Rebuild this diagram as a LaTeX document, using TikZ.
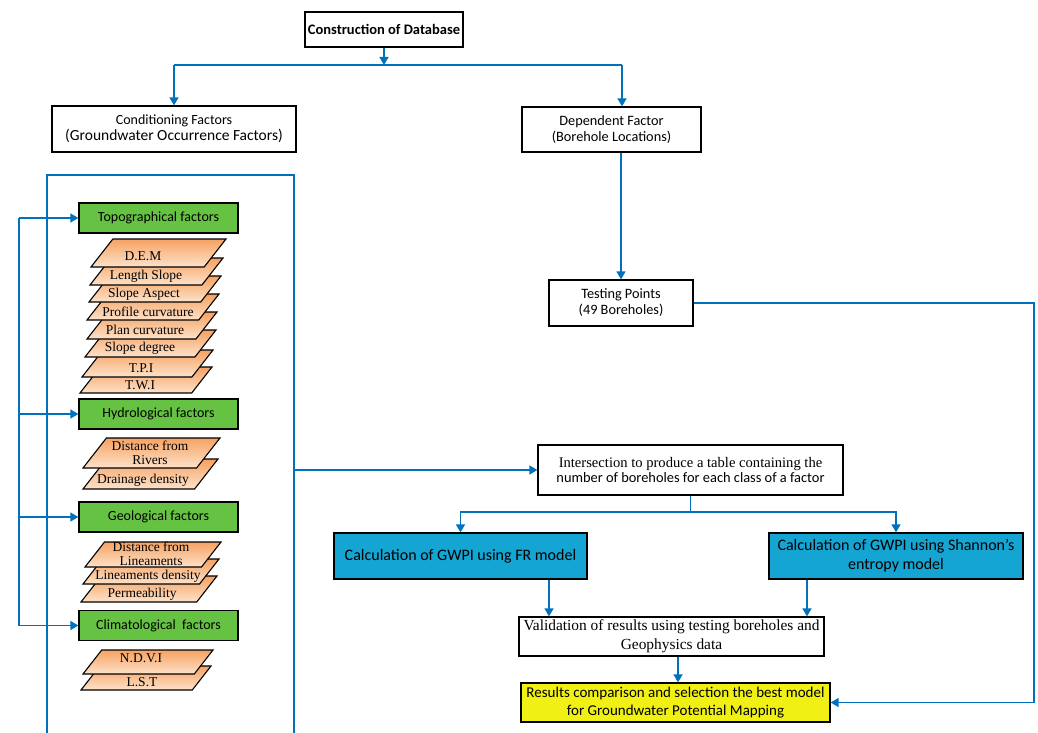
\documentclass[tikz,border=0pt]{standalone}
\usepackage{fontspec}
\setmainfont{Liberation Serif}
\newfontfamily\calfont{Carlito}
\usetikzlibrary{arrows.meta}
\definecolor{lineblue}{RGB}{0,114,188}
\definecolor{mygreen}{RGB}{102,194,66}
\definecolor{mycyan}{RGB}{20,165,210}
\definecolor{myyellow}{RGB}{240,240,20}
\definecolor{pgtop}{RGB}{246,162,98}
\definecolor{pgbot}{RGB}{253,226,202}
\newcommand\pgram[4]{\shade[pg] (#1,#2) -- ({#1+0.78*(#2-#4)},#4) -- (#3,#4) -- ({#3-0.78*(#2-#4)},#2) -- cycle;}
\tikzset{
  conn/.style={draw=lineblue, line width=1.6pt},
  arr/.style={conn, -{Triangle[length=8pt,width=9pt]}},
  box/.style={draw=black, line width=1.3pt, fill=white, align=center, inner sep=0pt},
  calbox/.style={box, font=\calfont\fontsize{14.3}{16}\selectfont},
  gbox/.style={box, fill=mygreen, font=\calfont\fontsize{14}{16}\selectfont, minimum width=159pt, minimum height=30pt},
  cbox/.style={box, fill=mycyan, font=\calfont\fontsize{16}{19}\selectfont, minimum width=254pt, minimum height=46pt},
  pg/.style={draw=black, line width=1.1pt, top color=pgtop, bottom color=pgbot},
  pgtext/.style={font=\fontsize{13.5}{14.5}\selectfont, inner sep=0pt, align=center}
}
\begin{document}
\begin{tikzpicture}[x=1pt,y=-1pt]
\useasboundingbox (0,0) rectangle (1038,733);

% top boxes
\node[box, font=\calfont\bfseries\fontsize{14.5}{16}\selectfont, minimum width=158pt, minimum height=35pt] (db) at (384,29.5) {Construction of Database};
\node[calbox, minimum width=244pt, minimum height=46pt] (cond) at (174,129) {{\fontsize{14}{15}\selectfont Conditioning Factors}\\{\fontsize{15.5}{15}\selectfont (Groundwater Occurrence Factors)}};
\node[calbox, minimum width=179pt, minimum height=45pt] (dep) at (611.5,129.5) {Dependent Factor\\(Borehole Locations)};
\node[calbox, minimum width=144pt, minimum height=46pt] (test) at (621,303) {Testing Points\\(49 Boreholes)};

\coordinate (jL) at (174,65);
\coordinate (jR) at (622,65);
\draw[arr] (db.south) -- (db.south |- jL);
\draw[conn] (jL) -- (jR);
\draw[arr] (jL) -- (cond.north);
\draw[arr] (jR) -- (jR |- dep.north);
\draw[arr] (test.north |- dep.south) -- (test.north);

% big open frame
\coordinate (frBL) at (47,733);
\coordinate (frTL) at (47,175);
\coordinate (frTR) at (294,175);
\coordinate (frBR) at (294,733);
\draw[conn] (frBL) -- (frTL) -- (frTR) -- (frBR);
\coordinate (bigR) at (294,470);

% green boxes
\node[gbox] (topo) at (158.5,218) {Topographical factors};
\node[gbox] (hydro) at (158.5,414) {Hydrological factors};
\node[gbox] (geo) at (158.5,517) {Geological factors};
\node[gbox] (clim) at (158.5,625.5) {Climatological\ \ factors};

% feedback line
\coordinate (lx) at (19,0);
\draw[conn] (lx |- topo.west) -- (lx |- clim.west);
\draw[arr] (lx |- topo.west) -- (topo.west);
\draw[arr] (lx |- hydro.west) -- (hydro.west);
\draw[arr] (lx |- geo.west) -- (geo.west);
\draw[arr] (lx |- clim.west) -- (clim.west);

% topographical stack (drawn bottom first)
\pgram{80}{393}{212}{367}
\pgram{82}{377}{213}{350}
\pgram{85}{357}{216}{330}
\pgram{87}{339}{217}{312}
\pgram{87}{320}{219}{294}
\pgram{89}{302}{221}{276}
\pgram{90}{285}{223}{258}
\pgram{91}{267}{226}{239}
\node[pgtext] (tdem) at (143,256) {D.E.M};
\node[pgtext] (tls) at (146,276) {Length Slope};
\node[pgtext] (tsa) at (144,294) {Slope Aspect};
\node[pgtext] (tpc) at (148,312) {Profile curvature};
\node[pgtext] (tplc) at (145,330) {Plan curvature};
\node[pgtext] (tsd) at (140,348) {Slope degree};
\node[pgtext] (ttpi) at (141,368) {T.P.I};
\node[pgtext] (ttwi) at (140,385) {T.W.I};

% hydrological stack
\pgram{83}{489}{218}{459}
\pgram{83}{468}{220}{438}
\node[pgtext] (tdr) at (150,453) {Distance from\\Rivers};
\node[pgtext] (tdd) at (143,480) {Drainage density};

% geological stack
\pgram{81}{602}{217}{576}
\pgram{83}{584}{219}{559}
\pgram{85}{567}{221}{542}
\node[pgtext] (tdl) at (151,554) {Distance from\\Lineaments};
\node[pgtext] (tld) at (148,576) {Lineaments density};
\node[pgtext] (tperm) at (142,594) {Permeability};

% climatological stack
\pgram{81}{690}{211}{666}
\pgram{83}{674}{213}{650}
\node[pgtext] (tndvi) at (141,658) {N.D.V.I};
\node[pgtext] (tlst) at (142,682) {L.S.T};

% right-hand flow
\node[box, minimum width=305pt, minimum height=50pt, font=\fontsize{14.6}{15}\selectfont] (inter) at (690.5,470) {Intersection to produce a table containing the\\{\calfont\fontsize{14.4}{15}\selectfont number of boreholes for each class of a factor}};
\node[cbox, minimum width=253pt] (fr) at (460.5,556) {Calculation of GWPI using FR model};
\node[cbox] (sh) at (896,556) {Calculation of GWPI using Shannon’s\\entropy model};
\node[box, minimum width=305pt, minimum height=39pt, font=\fontsize{15.4}{19}\selectfont] (val) at (671.5,636.5) {Validation of results using testing boreholes and\\Geophysics data};
\node[box, fill=myyellow, minimum width=309pt, minimum height=39pt, font=\calfont\fontsize{15}{18}\selectfont] (res) at (675.5,702.5) {Results comparison and selection the best model\\for Groundwater Potential Mapping};

\draw[arr] (bigR) -- (inter.west);
\coordinate (split) at (691,512);
\draw[conn] (inter.south) -- (inter.south |- split);
\draw[arr] (inter.south |- split) -| (fr.north);
\draw[arr] (inter.south |- split) -| (sh.north);
\draw[arr] ([xshift=88.5pt]fr.south) -- ([xshift=88.5pt]fr.south |- val.north);
\draw[arr] ([xshift=-89pt]sh.south) -- ([xshift=-89pt]sh.south |- val.north);
\draw[arr] ([xshift=2.5pt]res.north |- val.south) -- ([xshift=2.5pt]res.north);

\coordinate (rx) at (1034,0);
\draw[arr] (test.east) -- (test.east -| rx) |- (res.east);
\end{tikzpicture}
\end{document}
